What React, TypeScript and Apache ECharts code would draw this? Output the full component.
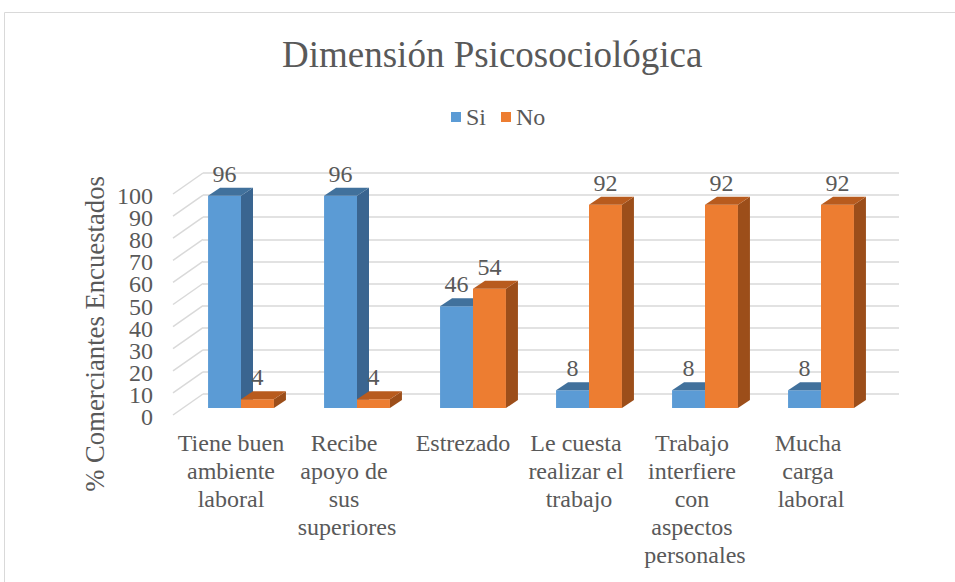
import React, { useEffect, useRef } from 'react';
import * as echarts from 'echarts';

const categories = [
  'Tiene buen ambiente laboral',
  'Recibe apoyo de sus superiores',
  'Estrezado',
  'Le cuesta realizar el trabajo',
  'Trabajo interfiere con aspectos personales',
  'Mucha carga laboral',
];
const siValues = [96, 96, 46, 8, 8, 8];
const noValues = [4, 4, 54, 92, 92, 92];
const yTicks = [0, 10, 20, 30, 40, 50, 60, 70, 80, 90, 100];
const seriesNames = ['Si', 'No'];

const FONT = 'Times New Roman, Liberation Serif, serif';
const TEXT = '#595959';
const GRID_C = '#d9d9d9';

const SI_COLORS = { front: '#5B9BD5', side: '#3A6590', top: '#41719C' };
const NO_COLORS = { front: '#ED7D31', side: '#9C4E1A', top: '#B85B1E' };

// depth geometry (pixels)
const BAR_SHIFT_X = 10;
const BAR_SHIFT_Y = -7;
const BAR_DEPTH_X = 12;
const BAR_DEPTH_Y = -8;
const WALL_X = 30;
const WALL_Y = -21;

function makeBarRender(sideSign: number, colors: { front: string; side: string; top: string }) {
  return (params: any, api: any) => {
    const ci = api.value(0);
    const v = api.value(1);
    const base = api.coord([ci, 0]);
    const top = api.coord([ci, v]);
    const band = api.size([1, 0])[0];
    const w = band * 0.284;
    const x0 = (sideSign < 0 ? base[0] - w : base[0]) + BAR_SHIFT_X;
    const x1 = x0 + w;
    const yb = base[1] + BAR_SHIFT_Y;
    const yt = top[1] + BAR_SHIFT_Y;
    return {
      type: 'group',
      children: [
        {
          type: 'polygon',
          shape: { points: [[x0, yt], [x1, yt], [x1, yb], [x0, yb]] },
          style: { fill: colors.front },
        },
        {
          type: 'polygon',
          shape: {
            points: [
              [x1, yt],
              [x1 + BAR_DEPTH_X, yt + BAR_DEPTH_Y],
              [x1 + BAR_DEPTH_X, yb + BAR_DEPTH_Y],
              [x1, yb],
            ],
          },
          style: { fill: colors.side },
        },
        {
          type: 'polygon',
          shape: {
            points: [
              [x0, yt],
              [x0 + BAR_DEPTH_X, yt + BAR_DEPTH_Y],
              [x1 + BAR_DEPTH_X, yt + BAR_DEPTH_Y],
              [x1, yt],
            ],
          },
          style: { fill: colors.top },
        },
        {
          type: 'text',
          x: (x0 + x1) / 2,
          y: yt - 22,
          style: {
            text: String(v),
            fill: TEXT,
            fontSize: 24,
            fontFamily: FONT,
            align: 'center',
            verticalAlign: 'middle',
          },
        },
      ],
    };
  };
}

// left side wall lines + value tick labels
const wallRender = (params: any, api: any) => {
  const v = api.value(1);
  const p = api.coord([0, v]);
  const x = params.coordSys.x;
  return {
    type: 'group',
    children: [
      {
        type: 'line',
        shape: { x1: x, y1: p[1], x2: x + WALL_X, y2: p[1] + WALL_Y },
        style: { stroke: GRID_C, lineWidth: 1.5 },
      },
      {
        type: 'text',
        x: x - 20,
        y: p[1] + 2,
        style: {
          text: String(v),
          fill: TEXT,
          fontSize: 24,
          lineHeight: 20,
          fontFamily: FONT,
          align: 'right',
          verticalAlign: 'middle',
        },
      },
    ],
  };
};

export default function App() {
  const ref = useRef<HTMLDivElement>(null);
  useEffect(() => {
    if (!ref.current) return;
    const chart = echarts.init(ref.current, null, { renderer: 'svg' });
    const frontLeft = 173;
    const frontTop = 194;
    const frontW = 696;
    const frontH = 221;
    chart.setOption({
      animation: false,
      backgroundColor: '#ffffff',
      textStyle: { fontFamily: FONT },
      title: {
        text: 'Dimensión Psicosociológica',
        left: 277,
        top: 31,
        textStyle: { fontFamily: FONT, fontSize: 37, fontWeight: 'normal', color: TEXT },
      },
      legend: {
        data: seriesNames,
        left: 446,
        top: 100,
        itemWidth: 10,
        itemHeight: 10,
        itemGap: 15,
        icon: 'rect',
        textStyle: { fontFamily: FONT, fontSize: 24, color: TEXT, padding: [0, 0, 0, 0] },
      },
      graphic: [
        {
          type: 'rect',
          shape: { x: 4.5, y: 12.5, width: 1200, height: 1000 },
          style: { fill: 'none', stroke: GRID_C, lineWidth: 1 },
          silent: true,
          z: -10,
        },
        {
          type: 'text',
          x: 95,
          y: 334,
          rotation: Math.PI / 2,
          style: {
            text: '% Comerciantes Encuestados',
            fill: TEXT,
            fontSize: 26.7,
            fontFamily: FONT,
            align: 'center',
            verticalAlign: 'middle',
          },
        },
      ],
      grid: [
        { left: frontLeft, top: frontTop, width: frontW, height: frontH, containLabel: false },
        {
          left: frontLeft + WALL_X,
          top: frontTop + WALL_Y,
          width: frontW,
          height: frontH,
          containLabel: false,
        },
      ],
      xAxis: [
        {
          type: 'category',
          gridIndex: 0,
          data: categories,
          axisLine: { show: false },
          axisTick: { show: false },
          splitLine: { show: false },
          axisLabel: {
            interval: 0,
            margin: 14,
            width: 112,
            overflow: 'break',
            lineHeight: 28,
            fontSize: 24,
            fontFamily: FONT,
            color: TEXT,
            align: 'center',
          },
        },
        {
          type: 'value',
          gridIndex: 1,
          min: 0,
          max: 1,
          show: false,
        },
      ],
      yAxis: [
        {
          type: 'value',
          gridIndex: 0,
          min: 0,
          max: 100,
          interval: 10,
          axisLine: { show: false },
          axisTick: { show: false },
          splitLine: { show: false },
          axisLabel: { show: false },
        },
        {
          type: 'value',
          gridIndex: 1,
          min: 0,
          max: 100,
          interval: 10,
          axisLine: { show: false },
          axisTick: { show: false },
          axisLabel: { show: false },
          splitLine: { show: true, lineStyle: { color: GRID_C, width: 1.5 } },
        },
      ],
      series: [
        {
          type: 'custom',
          name: 'wall',
          xAxisIndex: 0,
          yAxisIndex: 0,
          renderItem: wallRender,
          data: yTicks.map((t) => [0, t]),
          encode: { x: 0, y: 1 },
          silent: true,
          z: 1,
        },
        {
          type: 'custom',
          name: seriesNames[0],
          xAxisIndex: 0,
          yAxisIndex: 0,
          itemStyle: { color: SI_COLORS.front },
          renderItem: makeBarRender(-1, SI_COLORS),
          data: siValues.map((v, i) => [i, v]),
          encode: { x: 0, y: 1 },
          z: 3,
        },
        {
          type: 'custom',
          name: seriesNames[1],
          xAxisIndex: 0,
          yAxisIndex: 0,
          itemStyle: { color: NO_COLORS.front },
          renderItem: makeBarRender(1, NO_COLORS),
          data: noValues.map((v, i) => [i, v]),
          encode: { x: 0, y: 1 },
          z: 4,
        },
      ],
    });
    return () => chart.dispose();
  }, []);
  return (
    <div
      ref={ref}
      style={{ position: 'absolute', left: 0, top: 0, width: 955, height: 582 }}
    />
  );
}
